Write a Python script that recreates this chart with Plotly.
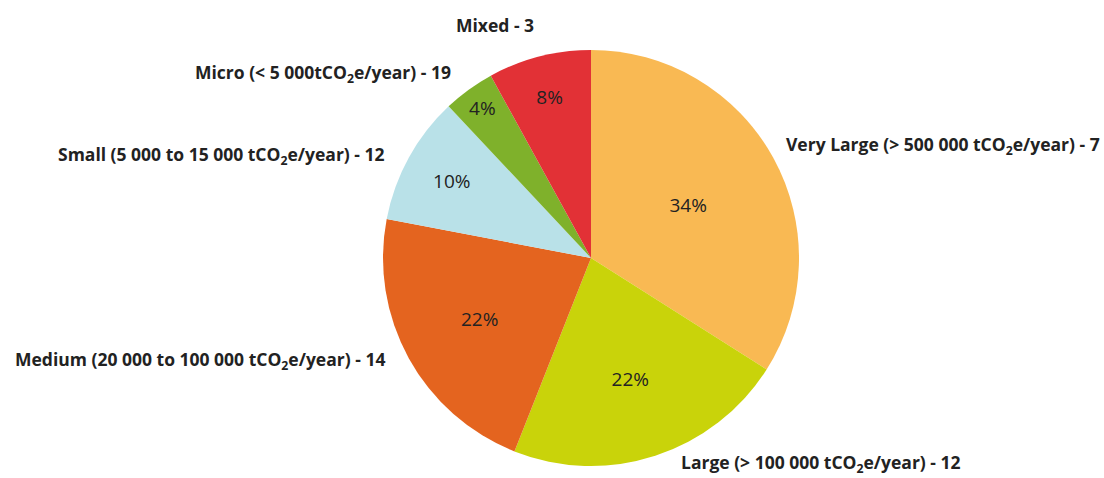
import plotly.graph_objects as go

categories = ["Very Large", "Large", "Medium", "Small", "Micro", "Mixed"]
shares = [34, 22, 22, 10, 4, 8]
outer_labels = [
    "Very Large (> 500 000 tCO<sub>2</sub>e/year) - 7",
    "Large (> 100 000 tCO<sub>2</sub>e/year) - 12",
    "Medium (20 000 to 100 000 tCO<sub>2</sub>e/year) - 14",
    "Small (5 000 to 15 000 tCO<sub>2</sub>e/year) - 12",
    "Micro (< 5 000tCO<sub>2</sub>e/year) - 19",
    "Mixed - 3",
]
colors = ["#F9B953", "#C9D30A", "#E4641F", "#B9E1E8", "#7FB12B", "#E23136"]

W, H = 1104, 478
cx, cy, r = 591, 258, 208

fig = go.Figure(go.Pie(
    labels=categories,
    values=shares,
    sort=False,
    direction="clockwise",
    rotation=0,
    marker=dict(colors=colors, line=dict(width=0)),
    texttemplate="%{value}%",
    textposition="inside",
    insidetextorientation="horizontal",
    insidetextfont=dict(family="Open Sans", size=19, color="#222222"),
    domain=dict(x=[(cx - r) / W, (cx + r) / W], y=[(H - cy - r) / H, (H - cy + r) / H]),
    showlegend=False,
    hoverinfo="label+percent",
))

# label positions (pixel coords): x, y, anchor
label_pos = [
    (784, 145, "left"),
    (679, 463, "left"),
    (387, 360, "right"),
    (387, 155, "right"),
    (453, 73, "right"),
    (536, 25, "right"),
]
for txt, (x, y, anc) in zip(outer_labels, label_pos):
    fig.add_annotation(
        x=x / W, y=1 - y / H, xref="paper", yref="paper",
        xanchor=anc, yanchor="middle", showarrow=False,
        text="<b>" + txt + "</b>",
        font=dict(family="Open Sans", size=17.5, color="#222222"),
    )

fig.update_layout(
    width=W, height=H,
    margin=dict(l=0, r=0, t=0, b=0),
    paper_bgcolor="white", plot_bgcolor="white",
)
fig.write_html("out.html")
